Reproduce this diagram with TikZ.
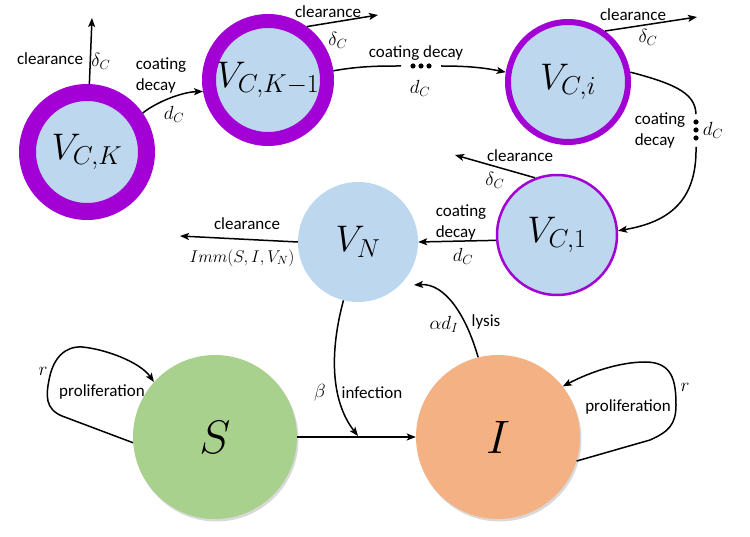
\RequirePackage{fix-cm}
\documentclass[tikz,border=0pt]{standalone}
\usepackage{amsmath}
\usepackage{fontspec}
\setmainfont{Carlito}
\usepackage{tikz}
\usetikzlibrary{shadows}
\usetikzlibrary{arrows.meta}
\usepackage{xcolor}
\definecolor{vblue}{RGB}{189,215,238}
\definecolor{vpurple}{RGB}{162,0,212}
\definecolor{sgreen}{RGB}{169,209,142}
\definecolor{iorange}{RGB}{244,177,131}

\begin{document}
\begin{tikzpicture}[x=1pt,y=-1pt,>={Stealth[length=9pt,width=7pt,inset=2pt]},
  lbl/.style={font=\fontsize{17}{21}\selectfont, inner sep=1pt},
  lblc/.style={lbl, align=left},
  mlbl/.style={font=\fontsize{19}{21}\selectfont, inner sep=1pt},
  vir/.style={circle, fill=vblue, inner sep=0pt, font=\fontsize{37}{40}\selectfont},
  cell/.style={circle, minimum size=164pt, inner sep=0pt, font=\fontsize{47}{50}\selectfont,
    drop shadow={shadow xshift=1.5pt, shadow yshift=-2.5pt, opacity=0.3}},
  flow/.style={->, line width=1.5pt},
  line/.style={line width=1.5pt}]
\useasboundingbox (0,0) rectangle (750,537);

% virus compartments
\node [vir, draw=vpurple, line width=17pt, minimum size=119pt] (vck) at (87,152) {$V_{C,K}$};
\node [vir, draw=vpurple, line width=14pt, minimum size=118pt] (vck1) at (268,80) {$V_{C,K-1}$};
\node [vir, draw=vpurple, line width=6pt, minimum size=120pt] (vci) at (568,82) {$V_{C,i}$};
\node [vir, draw=vpurple, line width=2.5pt, minimum size=120pt] (vc1) at (557,235) {$V_{C,1}$};
\node [vir, minimum size=120pt] (vn) at (358,242) {$V_N$};

% cells
\node [cell, fill=sgreen] (s) at (215,437) {$S$};
\node [cell, fill=iorange] (i) at (498,437) {$I$};

% free ends
\coordinate (ckout) at (92,18);
\coordinate (ck1out) at (378,15);
\coordinate (ciout) at (697,17);
\coordinate (c1out) at (455,155);
\coordinate (vnout) at (180,236);
\coordinate (dh1) at (401,66);
\coordinate (dh2) at (441,66);
\coordinate (dv1) at (696,114);
\coordinate (dv2) at (696,147);
\coordinate (inf) at (358,436);
\coordinate (lysend) at (414,285);

% dots
\foreach \k in {-1,0,1} \fill (421+8*\k,66) circle (2.6);
\foreach \k in {-1,0,1} \fill (696,130+8*\k) circle (2.6);

% clearance
\draw [flow] (vck.88) -- (ckout);
\node [lbl] (lclk) at (50,59) {clearance};
\node [mlbl] (ldk) at (101,61) {$\delta_C$};
\draw [flow] (vck1.54) -- (ck1out);
\node [lbl] (lclk1) at (328,12) {clearance};
\node [mlbl] (ldk1) at (338,40) {$\delta_C$};
\draw [flow] (vci.54) -- (ciout);
\node [lbl] (lcli) at (633,15) {clearance};
\node [mlbl] (ldi) at (648,37) {$\delta_C$};
\draw [flow] (vc1.111) -- (c1out);
\node [lbl] (lcl1) at (520,156) {clearance};
\node [mlbl] (ld1) at (495,180) {$\delta_C$};
\draw [flow] (vn.west) -- (vnout);
\node [lbl] (lcln) at (247,224) {clearance};
\node [lbl] (limm) at (242,258) {$Imm(S,I,V_N)$};

% coating decay
\draw [flow] (vck.35) .. controls (158,101) and (183,92) .. (vck1.190);
\node [lblc] (lcdk) at (161,75) {coating\\decay};
\node [mlbl] (ldck) at (174,114) {$d_C$};
\draw [line] (vck1.8) .. controls (360,66) and (380,66) .. (dh1);
\draw [flow] (dh2) .. controls (470,66) and (485,68) .. (vci.171);
\node [lbl] (lcdk1) at (416,53) {coating decay};
\node [mlbl] (ldck1) at (420,88) {$d_C$};
\draw [line] (vci.9) .. controls (680,85) and (695,95) .. (dv1);
\draw [flow] (dv2) .. controls (697,200) and (670,222) .. (vc1.4);
\node [lblc] (lcdi) at (660,130) {coating\\decay};
\node [mlbl] (ldci) at (713,130) {$d_C$};
\draw [flow] (vc1.185) -- (vn.east);
\node [lblc] (lcd1) at (461,222) {coating\\decay};
\node [mlbl] (ldc1) at (463,256) {$d_C$};

% infection and lysis
\draw [flow] (s.east) -- (i.west);
\draw [flow] (vn.256) .. controls (330,350) and (330,400) .. (inf);
\node [mlbl] (lbeta) at (320,393) {$\beta$};
\node [lbl] (linf) at (372,393) {infection};
\draw [flow] (i.104) .. controls (466,315) and (445,283) .. (lysend);
\node [mlbl] (lalpha) at (444,324) {$\alpha d_I$};
\node [lbl] (llys) at (486,322) {lysis};

% proliferation
\draw [flow] (s.184) -- (62,416) .. controls (45,409) and (46,395) .. (49,380)
  .. controls (53,358) and (65,346) .. (82,347) .. controls (105,349) and (140,362) .. (s.138);
\node [mlbl] (lrs) at (43,371) {$r$};
\node [lbl] (lprs) at (102,392) {proliferation};
\draw [flow] (i.343) -- (650,440) .. controls (668,432) and (676,425) .. (676,405)
  .. controls (676,380) and (672,362) .. (645,362) .. controls (620,362) and (590,372) .. (i.38);
\node [mlbl] (lri) at (685,387) {$r$};
\node [lbl] (lpri) at (628,407) {proliferation};

\end{tikzpicture}
\end{document}
